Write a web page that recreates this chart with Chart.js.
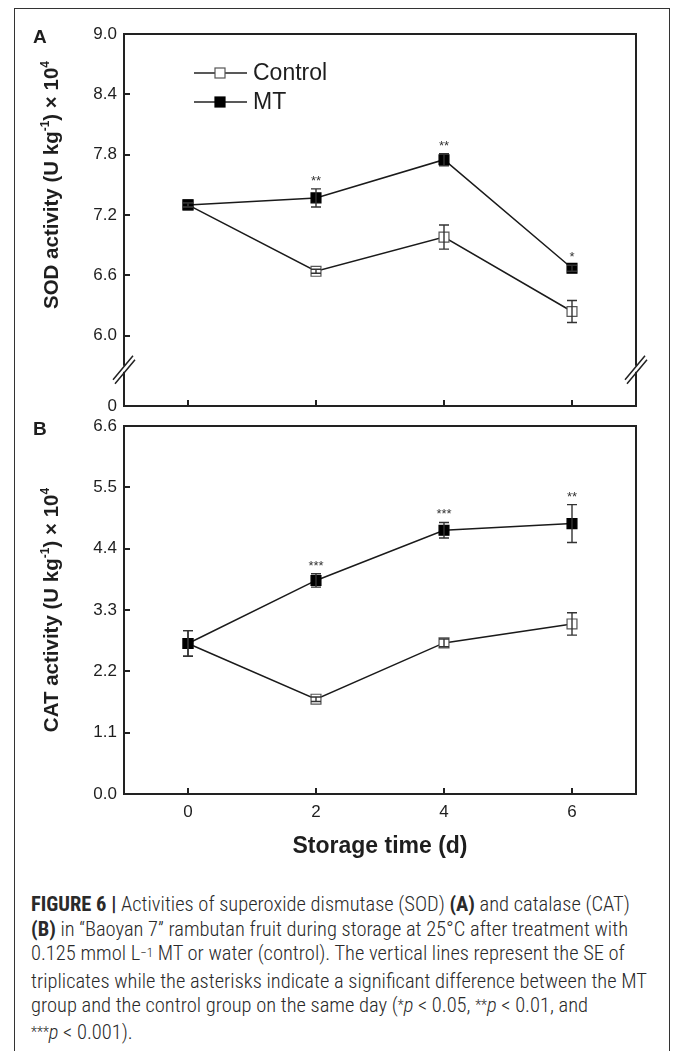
<!DOCTYPE html>
<html>
<head>
<meta charset="utf-8">
<script src="https://cdn.jsdelivr.net/npm/chart.js@4.4.1/dist/chart.umd.min.js"></script>
<style>
html,body{margin:0;padding:0;background:#fff}
body{width:673px;height:1051px;position:relative;overflow:hidden;font-family:"Liberation Sans",Arial,sans-serif;color:#1e1e1e}
#frame{position:absolute;left:14px;top:8px;width:656px;height:1100px;border:1.5px solid #333;box-sizing:border-box}
.cv{position:absolute;left:0}
.plbl{position:absolute;font-weight:bold;font-size:19px;line-height:1}
.ytitle{position:absolute;font-weight:bold;font-size:20.5px;white-space:nowrap;transform:translate(-50%,-50%) rotate(-90deg)}
.ytitle sup{font-size:12px;position:relative;top:-1px}
.xtitle{position:absolute;font-weight:bold;font-size:23px;white-space:nowrap;transform:translate(-50%,-50%)}
#cap{position:absolute;left:31px;top:892px;width:640px;font-family:"Roboto Condensed","Liberation Sans Narrow","Liberation Sans",sans-serif;font-weight:300;font-size:20.5px;line-height:24.5px;color:#2a2a2a;white-space:nowrap}
#cap b{font-weight:700}
#cap sup{font-size:13px;position:relative;top:-3px;vertical-align:baseline}
#cap .ast{font-size:14px;position:relative;top:-2px}
</style>
</head>
<body>
<div id="frame"></div>
<canvas id="cSod" class="cv" style="top:0"></canvas>
<canvas id="cCat" class="cv" style="top:400px"></canvas>
<div class="plbl" style="left:33px;top:27px">A</div>
<div class="plbl" style="left:33px;top:419px">B</div>
<div class="ytitle" style="left:51px;top:185px">SOD activity (U kg<sup>-1</sup>) × 10<sup>4</sup></div>
<div class="ytitle" style="left:51px;top:610px">CAT activity (U kg<sup>-1</sup>) × 10<sup>4</sup></div>
<div class="xtitle" style="left:380px;top:845px">Storage time (d)</div>
<div id="cap">
<b>FIGURE 6 |</b> Activities of superoxide dismutase (SOD) <b>(A)</b> and catalase (CAT)<br>
<b>(B)</b> in “Baoyan 7” rambutan fruit during storage at 25°C after treatment with<br>
0.125 mmol L<sup>−1</sup> MT or water (control). The vertical lines represent the SE of<br>
triplicates while the asterisks indicate a significant difference between the MT<br>
group and the control group on the same day (<span class="ast">*</span><i>p</i> &lt; 0.05, <span class="ast">**</span><i>p</i> &lt; 0.01, and<br>
<span class="ast">***</span><i>p</i> &lt; 0.001).
</div>
<script>
// storage days
const DAYS=[0,2,4,6];
const SERIES=['Control','MT'];

// SOD activity (U kg-1) x 10^4
const SOD_CTRL=[7.30,6.64,6.98,6.24];
const SOD_CTRL_SE=[0.02,0.02,0.12,0.11];
const SOD_MT=[7.30,7.37,7.75,6.67];
const SOD_MT_SE=[0.02,0.09,0.06,0.03];
const SOD_SIG=['','**','**','*'];
const SOD_TICKS=[6.0,6.6,7.2,7.8,8.4,9.0];
const SOD_MIN=5.3; // axis broken below 6.0, bottom labelled 0

// CAT activity (U kg-1) x 10^4
const CAT_CTRL=[2.70,1.70,2.71,3.05];
const CAT_CTRL_SE=[0.23,0.04,0.07,0.20];
const CAT_MT=[2.70,3.83,4.73,4.85];
const CAT_MT_SE=[0.23,0.12,0.14,0.34];
const CAT_SIG=['','***','***','**'];
const CAT_TICKS=[0,1.1,2.2,3.3,4.4,5.5,6.6];

const INK='#1e1e1e';
const FONT='"Liberation Sans", Arial, sans-serif';

function pts(vals){return DAYS.map((d,i)=>({x:d,y:vals[i]}))}

// frame, inward ticks, axis break, error bars, asterisks, legend
const figPlugin={
  id:'fig',
  afterDatasetsDraw(chart,args,o){
    const {ctx,chartArea:a,scales:{x,y}}=chart;
    ctx.save();
    // error bars
    ctx.strokeStyle='#333';ctx.lineWidth=1.4;
    o.errs.forEach((se,di)=>{
      const vals=chart.data.datasets[di].data;
      vals.forEach((p,j)=>{
        const px=x.getPixelForValue(p.x);
        const t=y.getPixelForValue(p.y+se[j]),b=y.getPixelForValue(p.y-se[j]);
        ctx.beginPath();
        ctx.moveTo(px,t);ctx.lineTo(px,b);
        ctx.moveTo(px-5,t);ctx.lineTo(px+5,t);
        ctx.moveTo(px-5,b);ctx.lineTo(px+5,b);
        ctx.stroke();
      });
    });
    // significance marks over MT
    ctx.fillStyle='#333';ctx.font='13px '+FONT;ctx.textAlign='center';ctx.textBaseline='alphabetic';
    const mt=chart.data.datasets[o.sigSet].data;
    o.sig.forEach((s,j)=>{
      if(!s)return;
      const px=x.getPixelForValue(mt[j].x);
      const t=y.getPixelForValue(mt[j].y+o.errs[o.sigSet][j]);
      ctx.fillText(s,px,t-4);
    });
    // frame
    ctx.strokeStyle='#222';ctx.lineWidth=2;
    ctx.strokeRect(a.left,a.top,a.width,a.height);
    ctx.beginPath();
    y.ticks.forEach(t=>{
      if(t.value===o.yMin)return;
      const py=Math.round(y.getPixelForValue(t.value));
      ctx.moveTo(a.left,py);ctx.lineTo(a.left+6,py);
    });
    x.ticks.forEach(t=>{
      const px=Math.round(x.getPixelForValue(t.value));
      ctx.moveTo(px,a.bottom);ctx.lineTo(px,a.bottom-6);
    });
    ctx.stroke();
    // axis break marks
    if(o.brk){
      const yb=(y.getPixelForValue(o.brk)+a.bottom)/2-2;
      [a.left,a.right].forEach(bx=>{
        ctx.fillStyle='#fff';
        ctx.fillRect(bx-2,yb-3,4,6);
        ctx.strokeStyle='#222';ctx.lineWidth=1.5;
        ctx.beginPath();
        ctx.moveTo(bx-11,yb+11);ctx.lineTo(bx+9,yb-13);
        ctx.moveTo(bx-9,yb+15);ctx.lineTo(bx+11,yb-9);
        ctx.stroke();
      });
    }
    // legend
    if(o.legend){
      ctx.font='23px '+FONT;ctx.textAlign='left';ctx.textBaseline='middle';
      chart.data.datasets.slice().reverse().forEach((ds,k)=>{
        const ly=a.top+39+k*29,lx=a.left+70;
        ctx.strokeStyle='#222';ctx.lineWidth=1.5;
        ctx.beginPath();ctx.moveTo(lx,ly);ctx.lineTo(lx+53,ly);ctx.stroke();
        ctx.fillStyle=ds.pointBackgroundColor;ctx.strokeStyle=ds.pointBorderColor;ctx.lineWidth=1.2;
        ctx.fillRect(lx+21,ly-5,10,10);ctx.strokeRect(lx+21,ly-5,10,10);
        ctx.fillStyle=INK;
        ctx.fillText(ds.label,lx+59,ly+1);
      });
    }
    ctx.restore();
  }
};

function dataset(label,vals,filled){
  return {label,data:pts(vals),borderColor:'#1a1a1a',borderWidth:1.5,
    pointStyle:'rect',pointRadius:7,pointHoverRadius:7,pointBorderWidth:1.2,
    pointBackgroundColor:filled?'#000':'#fff',pointBorderColor:filled?'#000':'#555',tension:0};
}

function build(id,w,h,pad,xH,showX,ticks,yMin,yMax,fmtY,mtV,ctV,mtE,ctE,sig,brk,legend){
  const cv=document.getElementById(id);
  cv.width=w;cv.height=h;cv.style.width=w+'px';cv.style.height=h+'px';
  return new Chart(cv,{type:'line',
    data:{datasets:[dataset(SERIES[1],mtV,true),dataset(SERIES[0],ctV,false)]},
    options:{responsive:false,animation:false,events:[],
      layout:{padding:pad},
      plugins:{legend:{display:false},tooltip:{enabled:false},
        fig:{errs:[mtE,ctE],sig,sigSet:0,yMin,brk,legend}},
      scales:{
        x:{type:'linear',min:-1,max:7,
          afterBuildTicks:s=>{s.ticks=DAYS.map(v=>({value:v}))},
          afterFit:s=>{s.height=xH},
          grid:{display:false,drawTicks:false},border:{display:false},
          ticks:{display:showX,padding:8,color:INK,font:{family:FONT,size:17}}},
        y:{type:'linear',min:yMin,max:yMax,
          afterBuildTicks:s=>{s.ticks=(yMin<ticks[0]?[yMin]:[]).concat(ticks).map(v=>({value:v}))},
          afterFit:s=>{s.width=124},
          grid:{display:false,drawTicks:false},border:{display:false},
          ticks:{padding:7,color:INK,font:{family:FONT,size:17},callback:fmtY}}
      }},
    plugins:[figPlugin]});
}

build('cSod',673,430,{top:34,right:37,left:0,bottom:0},24,false,SOD_TICKS,SOD_MIN,9.0,
  v=>v===SOD_MIN?'0':v.toFixed(1),SOD_MT,SOD_CTRL,SOD_MT_SE,SOD_CTRL_SE,SOD_SIG,SOD_TICKS[0],true);
build('cCat',673,460,{top:26,right:37,left:0,bottom:0},66,true,CAT_TICKS,0,6.6,
  v=>v.toFixed(1),CAT_MT,CAT_CTRL,CAT_MT_SE,CAT_CTRL_SE,CAT_SIG,null,false);
</script>
</body>
</html>
